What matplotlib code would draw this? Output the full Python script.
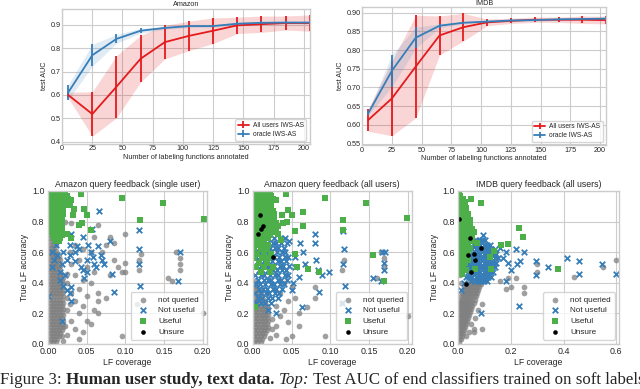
import numpy as np
import matplotlib
matplotlib.use("Agg")
import matplotlib.pyplot as plt
from matplotlib.ticker import MultipleLocator

plt.style.use("seaborn-v0_8-whitegrid")

# ---- top row: test AUC vs number of LFs annotated ----
n_lfs = [5, 25, 45, 65, 85, 105, 125, 145, 165, 185, 205]

amz_users = [0.600, 0.518, 0.635, 0.755, 0.826, 0.853, 0.875, 0.898, 0.903, 0.908, 0.908]
amz_users_err = [0.012, 0.095, 0.133, 0.100, 0.072, 0.063, 0.055, 0.035, 0.035, 0.030, 0.035]
amz_oracle = [0.610, 0.770, 0.840, 0.875, 0.887, 0.895, 0.895, 0.905, 0.909, 0.910, 0.910]
amz_oracle_err = [0.033, 0.047, 0.019, 0.010, 0.006, 0.006, 0.006, 0.006, 0.006, 0.006, 0.006]

imdb_users = [0.613, 0.671, 0.756, 0.839, 0.861, 0.874, 0.878, 0.881, 0.881, 0.881, 0.880]
imdb_users_err = [0.030, 0.100, 0.137, 0.052, 0.037, 0.009, 0.007, 0.007, 0.007, 0.010, 0.010]
imdb_oracle = [0.631, 0.745, 0.833, 0.865, 0.873, 0.876, 0.879, 0.880, 0.882, 0.883, 0.884]
imdb_oracle_err = [0.005, 0.043, 0.028, 0.005, 0.003, 0.003, 0.003, 0.003, 0.003, 0.003, 0.003]

# ---- bottom row: LF coverage vs true LF accuracy ----
# dense clusters are stored as rows: (accuracy, [coverages...])
# sparse points are stored as (coverage, accuracy)
amz1_gray_rows = [
    (0.01, [0.002, 0.006, 0.010]), (0.03, [0.004, 0.008, 0.012]),
    (0.05, [0.002, 0.006, 0.010, 0.014]), (0.07, [0.004, 0.008, 0.012, 0.016]),
    (0.09, [0.002, 0.006, 0.010, 0.014, 0.018]), (0.11, [0.004, 0.008, 0.012, 0.016, 0.020]),
    (0.13, [0.002, 0.006, 0.010, 0.014, 0.018]), (0.15, [0.004, 0.008, 0.012, 0.016, 0.020]),
    (0.17, [0.002, 0.006, 0.010, 0.014, 0.018]), (0.19, [0.004, 0.008, 0.012, 0.016, 0.020]),
    (0.21, [0.002, 0.006, 0.010, 0.014, 0.018]), (0.23, [0.004, 0.008, 0.012, 0.016, 0.020]),
    (0.25, [0.002, 0.006, 0.010, 0.014, 0.018]), (0.27, [0.004, 0.008, 0.012, 0.016, 0.020]),
    (0.29, [0.002, 0.006, 0.010, 0.014, 0.018]), (0.31, [0.004, 0.008, 0.012, 0.016, 0.020]),
    (0.33, [0.002, 0.006, 0.010, 0.014, 0.018]), (0.35, [0.004, 0.008, 0.012, 0.016, 0.020]),
    (0.37, [0.002, 0.006, 0.010, 0.014, 0.018]), (0.39, [0.004, 0.008, 0.012, 0.016, 0.020]),
    (0.41, [0.002, 0.006, 0.010, 0.014, 0.018]), (0.43, [0.004, 0.008, 0.012, 0.016, 0.020]),
    (0.45, [0.002, 0.006, 0.010, 0.014, 0.018]), (0.47, [0.004, 0.008, 0.012, 0.016]),
    (0.49, [0.002, 0.006, 0.010, 0.014]), (0.51, [0.004, 0.008, 0.012, 0.016]),
    (0.53, [0.002, 0.006, 0.010, 0.014]), (0.55, [0.004, 0.008, 0.012, 0.016]),
    (0.57, [0.002, 0.006, 0.010, 0.014]), (0.59, [0.004, 0.008, 0.012]),
    (0.61, [0.002, 0.006, 0.010]), (0.63, [0.004, 0.008]), (0.65, [0.002, 0.006, 0.010]),
    (0.67, [0.004, 0.008]), (0.69, [0.002, 0.006]), (0.71, [0.004, 0.008]), (0.73, [0.002, 0.006]),
]
amz1_gray = [
    (0.035, 0.65), (0.045, 0.62), (0.055, 0.60), (0.040, 0.55), (0.030, 0.52), (0.050, 0.50),
    (0.060, 0.47), (0.035, 0.45), (0.045, 0.42), (0.025, 0.40), (0.055, 0.40), (0.040, 0.36),
    (0.030, 0.33), (0.050, 0.31), (0.065, 0.33), (0.035, 0.28), (0.045, 0.25), (0.025, 0.22),
    (0.040, 0.20), (0.060, 0.22), (0.030, 0.15), (0.050, 0.15), (0.035, 0.10), (0.025, 0.06),
    (0.045, 0.08), (0.040, 0.03), (0.065, 0.28), (0.075, 0.30), (0.080, 0.45), (0.090, 0.50),
    (0.095, 0.47), (0.085, 0.55), (0.100, 0.53), (0.100, 0.47), (0.118, 0.48), (0.117, 0.55),
    (0.115, 0.26), (0.095, 0.05), (0.070, 0.60), (0.075, 0.65), (0.080, 0.70), (0.085, 0.66),
    (0.060, 0.70), (0.165, 0.60), (0.170, 0.56), (0.170, 0.52), (0.170, 0.48), (0.155, 0.43),
    (0.160, 0.41), (0.200, 0.20), (0.120, 0.59), (0.100, 0.72), (0.065, 0.20), (0.055, 0.13),
    (0.024, 0.30), (0.024, 0.46), (0.028, 0.60), (0.022, 0.80), (0.030, 0.79), (0.065, 0.78),
    (0.022, 0.12), (0.028, 0.26), (0.020, 0.02), (0.018, 0.05),
]
amz1_blue = [
    (0.000, 0.31), (0.005, 0.60), (0.008, 0.55), (0.012, 0.58), (0.018, 0.52), (0.015, 0.47),
    (0.020, 0.60), (0.022, 0.45), (0.025, 0.55), (0.028, 0.58), (0.020, 0.38), (0.025, 0.35),
    (0.028, 0.33), (0.030, 0.37), (0.030, 0.28), (0.035, 0.60), (0.038, 0.64), (0.040, 0.62),
    (0.042, 0.50), (0.045, 0.48), (0.047, 0.43), (0.050, 0.47), (0.050, 0.55), (0.052, 0.65),
    (0.055, 0.60), (0.058, 0.57), (0.060, 0.52), (0.062, 0.50), (0.065, 0.64), (0.068, 0.58),
    (0.070, 0.55), (0.072, 0.52), (0.080, 0.67), (0.083, 0.46), (0.085, 0.34), (0.018, 0.15),
    (0.035, 0.54), (0.028, 0.65), (0.010, 0.65), (0.012, 0.70), (0.030, 0.72), (0.045, 0.70),
    (0.057, 0.75), (0.118, 0.62), (0.117, 0.52), (0.119, 0.38), (0.117, 0.745), (0.170, 0.60),
    (0.168, 0.41), (0.066, 0.87), (0.015, 0.42), (0.005, 0.50),
]
amz1_green_rows = [
    (0.99, [0.002, 0.006, 0.010, 0.014, 0.018, 0.022]),
    (0.97, [0.004, 0.008, 0.012, 0.016, 0.020, 0.024]),
    (0.95, [0.002, 0.006, 0.010, 0.014, 0.018, 0.022, 0.026]),
    (0.93, [0.004, 0.008, 0.012, 0.016, 0.020, 0.024]),
    (0.91, [0.002, 0.006, 0.010, 0.014, 0.018, 0.022]),
    (0.89, [0.004, 0.008, 0.012, 0.016, 0.020]), (0.87, [0.002, 0.006, 0.010, 0.014, 0.018]),
    (0.85, [0.004, 0.008, 0.012, 0.016, 0.020]), (0.83, [0.002, 0.006, 0.010, 0.014, 0.018]),
    (0.81, [0.004, 0.008, 0.012, 0.016]), (0.79, [0.002, 0.006, 0.010, 0.014, 0.018]),
    (0.77, [0.004, 0.008, 0.012, 0.016]), (0.75, [0.002, 0.006, 0.010, 0.014, 0.018]),
    (0.73, [0.004, 0.008, 0.012, 0.016]), (0.71, [0.006, 0.010, 0.014, 0.018]),
    (0.69, [0.008, 0.012, 0.016]), (0.67, [0.010, 0.014]),
]
amz1_green = [
    (0.043, 0.98), (0.095, 0.956), (0.148, 0.92), (0.201, 0.82), (0.119, 0.81), (0.051, 0.84),
    (0.046, 0.88), (0.033, 0.88), (0.032, 0.84), (0.044, 0.79), (0.040, 0.78), (0.055, 0.745),
    (0.030, 0.94), (0.029, 0.91), (0.030, 0.69), (0.024, 0.72),
]
amz1_black = []

amz2_gray_rows = [
    (0.01, [0.002, 0.006, 0.010]), (0.03, [0.004, 0.008, 0.012]),
    (0.05, [0.002, 0.006, 0.010, 0.014]), (0.07, [0.004, 0.008, 0.012, 0.016]),
    (0.09, [0.002, 0.006, 0.010, 0.014, 0.018]), (0.11, [0.004, 0.008, 0.012, 0.016, 0.020]),
    (0.13, [0.002, 0.006, 0.010, 0.014, 0.018]), (0.15, [0.004, 0.008, 0.012, 0.016, 0.020]),
    (0.17, [0.002, 0.006, 0.010, 0.014, 0.018]), (0.19, [0.004, 0.008, 0.012, 0.016, 0.020]),
    (0.21, [0.002, 0.006, 0.010, 0.014, 0.018]), (0.23, [0.004, 0.008, 0.012, 0.016, 0.020]),
    (0.25, [0.002, 0.006, 0.010, 0.014, 0.018]), (0.27, [0.004, 0.008, 0.012, 0.016]),
    (0.29, [0.002, 0.006, 0.010, 0.014]), (0.31, [0.004, 0.008, 0.012]),
    (0.33, [0.002, 0.006, 0.010]), (0.35, [0.004, 0.008]), (0.37, [0.002, 0.006]),
    (0.39, [0.004]), (0.41, [0.002]),
]
amz2_gray = [
    (0.025, 0.10), (0.030, 0.12), (0.043, 0.03), (0.050, 0.05), (0.035, 0.18), (0.040, 0.22),
    (0.030, 0.25), (0.045, 0.28), (0.055, 0.30), (0.060, 0.20), (0.035, 0.33), (0.050, 0.37),
    (0.040, 0.40), (0.080, 0.30), (0.080, 0.37), (0.093, 0.05), (0.115, 0.48), (0.118, 0.55),
    (0.165, 0.60), (0.170, 0.56), (0.170, 0.50), (0.160, 0.43), (0.200, 0.18), (0.115, 0.27),
    (0.025, 0.16), (0.060, 0.12), (0.070, 0.24), (0.045, 0.14), (0.030, 0.06), (0.022, 0.04),
]
amz2_blue_rows = [
    (0.27, [0.004, 0.011, 0.016, 0.023]), (0.30, [0.007, 0.012, 0.020, 0.025, 0.033]),
    (0.33, [0.003, 0.010, 0.017, 0.021, 0.029, 0.034]),
    (0.36, [0.008, 0.013, 0.018, 0.026, 0.030, 0.038]),
    (0.39, [0.004, 0.009, 0.016, 0.023, 0.027, 0.035, 0.040]),
    (0.42, [0.007, 0.014, 0.019, 0.024, 0.032, 0.036, 0.044]),
    (0.45, [0.003, 0.010, 0.015, 0.022, 0.029, 0.033, 0.041, 0.046]),
    (0.48, [0.008, 0.012, 0.020, 0.026, 0.031, 0.038, 0.043]),
    (0.51, [0.005, 0.011, 0.017, 0.021, 0.028, 0.035, 0.039, 0.047]),
    (0.54, [0.007, 0.014, 0.018, 0.025, 0.032, 0.036, 0.043]),
    (0.57, [0.004, 0.009, 0.016, 0.023, 0.027, 0.034, 0.041, 0.045]),
    (0.60, [0.008, 0.013, 0.020, 0.024, 0.031, 0.038, 0.042]),
    (0.63, [0.011, 0.015, 0.022, 0.029, 0.033, 0.040]),
    (0.66, [0.018, 0.026, 0.030, 0.037, 0.044]), (0.69, [0.027, 0.035, 0.041]),
]
amz2_blue = [
    (0.047, 0.67), (0.061, 0.66), (0.065, 0.60), (0.068, 0.52), (0.080, 0.72), (0.080, 0.66),
    (0.082, 0.55), (0.084, 0.48), (0.090, 0.45), (0.085, 0.34), (0.098, 0.47), (0.116, 0.52),
    (0.118, 0.62), (0.119, 0.38), (0.115, 0.27), (0.167, 0.60), (0.171, 0.60), (0.170, 0.53),
    (0.170, 0.48), (0.155, 0.43), (0.166, 0.41), (0.064, 0.24), (0.116, 0.74), (0.055, 0.50),
    (0.060, 0.44), (0.050, 0.35), (0.030, 0.20), (0.020, 0.22), (0.055, 0.57), (0.052, 0.40),
]
amz2_green_rows = [
    (0.99, [0.002, 0.006, 0.010, 0.014, 0.018, 0.022]),
    (0.97, [0.004, 0.008, 0.012, 0.016, 0.020, 0.024]),
    (0.95, [0.002, 0.006, 0.010, 0.014, 0.018, 0.022, 0.026]),
    (0.93, [0.004, 0.008, 0.012, 0.016, 0.020, 0.024]),
    (0.91, [0.002, 0.006, 0.010, 0.014, 0.018, 0.022]),
    (0.89, [0.004, 0.008, 0.012, 0.016, 0.020, 0.024]),
    (0.87, [0.002, 0.006, 0.010, 0.014, 0.018, 0.022, 0.026]),
    (0.85, [0.004, 0.008, 0.012, 0.016, 0.020, 0.024, 0.028]),
    (0.83, [0.002, 0.006, 0.010, 0.014, 0.018, 0.022, 0.026]),
    (0.81, [0.004, 0.008, 0.012, 0.016, 0.020, 0.024, 0.028]),
    (0.79, [0.002, 0.006, 0.010, 0.014, 0.018, 0.022, 0.026, 0.030]),
    (0.77, [0.004, 0.008, 0.012, 0.016, 0.020, 0.024, 0.028, 0.032]),
    (0.75, [0.002, 0.006, 0.010, 0.014, 0.018, 0.022, 0.026, 0.030]),
    (0.73, [0.004, 0.008, 0.012, 0.016, 0.020, 0.024, 0.028]),
    (0.71, [0.002, 0.006, 0.010, 0.014, 0.018, 0.022]),
    (0.69, [0.004, 0.008, 0.012, 0.016, 0.020]), (0.67, [0.002, 0.006, 0.010, 0.014]),
    (0.65, [0.004, 0.008, 0.012, 0.020]), (0.62, [0.002, 0.010, 0.018]),
    (0.59, [0.006, 0.014, 0.024]), (0.56, [0.002, 0.012, 0.020]), (0.53, [0.008, 0.018]),
    (0.50, [0.004, 0.014, 0.026]), (0.47, [0.010, 0.022]),
]
amz2_green = [
    (0.043, 0.98), (0.093, 0.954), (0.146, 0.92), (0.199, 0.823), (0.117, 0.81), (0.116, 0.743),
    (0.065, 0.865), (0.046, 0.878), (0.051, 0.84), (0.044, 0.80), (0.055, 0.74), (0.065, 0.77),
    (0.038, 0.84), (0.039, 0.79), (0.033, 0.72), (0.055, 0.59), (0.057, 0.50), (0.071, 0.49),
    (0.086, 0.47), (0.155, 0.58), (0.170, 0.41), (0.003, 0.24), (0.036, 0.68), (0.030, 0.94),
]
amz2_black = [(0.009, 0.84), (0.011, 0.75), (0.007, 0.72), (0.026, 0.57), (0.013, 0.77)]

imdb_gray_rows = [
    (0.01, [0.003]), (0.03, [0.003, 0.010]), (0.05, [0.006, 0.014]),
    (0.07, [0.003, 0.010, 0.018]), (0.09, [0.006, 0.014, 0.022]),
    (0.11, [0.003, 0.010, 0.018, 0.026]), (0.13, [0.006, 0.014, 0.022, 0.030]),
    (0.15, [0.003, 0.010, 0.018, 0.026, 0.034]), (0.17, [0.006, 0.014, 0.022, 0.030, 0.038]),
    (0.19, [0.003, 0.010, 0.018, 0.026, 0.034, 0.042]),
    (0.21, [0.006, 0.014, 0.022, 0.030, 0.038, 0.046]),
    (0.23, [0.003, 0.010, 0.018, 0.026, 0.034, 0.042, 0.050]),
    (0.25, [0.006, 0.014, 0.022, 0.030, 0.038, 0.046, 0.054]),
    (0.27, [0.003, 0.010, 0.018, 0.026, 0.034, 0.042, 0.050, 0.058]),
    (0.29, [0.006, 0.014, 0.022, 0.030, 0.038, 0.046, 0.054, 0.062]),
    (0.31, [0.010, 0.018, 0.026, 0.034, 0.042, 0.050, 0.058, 0.066]),
    (0.33, [0.014, 0.022, 0.030, 0.038, 0.046, 0.054, 0.062, 0.070]),
    (0.35, [0.018, 0.026, 0.034, 0.042, 0.050, 0.058, 0.066, 0.074]),
    (0.37, [0.022, 0.030, 0.038, 0.046, 0.054, 0.062, 0.070, 0.078]),
    (0.39, [0.030, 0.038, 0.046, 0.054, 0.062, 0.070, 0.078, 0.086]),
    (0.41, [0.046, 0.054, 0.062, 0.070, 0.078, 0.086, 0.094]),
    (0.43, [0.070, 0.078, 0.086, 0.094, 0.102]), (0.45, [0.094, 0.102, 0.110]),
]
imdb_gray = [
    (0.040, 0.08), (0.060, 0.10), (0.050, 0.13), (0.065, 0.17), (0.075, 0.22), (0.090, 0.26),
    (0.180, 0.36), (0.200, 0.37), (0.220, 0.43), (0.250, 0.33), (0.300, 0.52), (0.300, 0.47),
    (0.440, 0.44), (0.550, 0.50), (0.600, 0.55), (0.190, 0.43), (0.250, 0.37), (0.160, 0.41),
    (0.090, 0.10), (0.060, 0.08), (0.030, 0.05), (0.005, 0.45), (0.010, 0.40),
]
imdb_blue_rows = [
    (0.41, [0.050, 0.062, 0.074, 0.086, 0.098, 0.110]),
    (0.44, [0.030, 0.042, 0.054, 0.066, 0.078, 0.090, 0.102, 0.114, 0.126]),
    (0.47, [0.036, 0.048, 0.060, 0.072, 0.084, 0.096, 0.108, 0.120, 0.132]),
    (0.50, [0.030, 0.042, 0.054, 0.066, 0.078, 0.090, 0.102, 0.114, 0.126, 0.138]),
    (0.53, [0.036, 0.048, 0.060, 0.072, 0.084, 0.096, 0.108, 0.120, 0.132, 0.144]),
    (0.56, [0.042, 0.054, 0.066, 0.078, 0.090, 0.102, 0.114, 0.126, 0.138, 0.150]),
    (0.59, [0.048, 0.060, 0.072, 0.084, 0.096, 0.108, 0.120, 0.132, 0.144]),
    (0.62, [0.054, 0.066, 0.078, 0.090, 0.102, 0.114, 0.126, 0.138]),
    (0.65, [0.060, 0.072, 0.084, 0.096, 0.108, 0.120]),
    (0.68, [0.066, 0.078, 0.090, 0.102]),
]
imdb_blue = [
    (0.180, 0.60), (0.220, 0.62), (0.250, 0.60), (0.190, 0.53), (0.225, 0.52), (0.200, 0.48),
    (0.180, 0.41), (0.230, 0.25), (0.297, 0.54), (0.297, 0.45), (0.340, 0.50), (0.414, 0.56),
    (0.460, 0.54), (0.460, 0.46), (0.547, 0.52), (0.600, 0.46), (0.235, 0.54), (0.085, 0.20),
    (0.095, 0.71), (0.160, 0.63), (0.170, 0.56), (0.010, 0.35), (0.020, 0.40),
]
imdb_green_rows = [
    (0.99, [0.002]), (0.97, [0.003, 0.008]), (0.95, [0.003, 0.010, 0.017]),
    (0.93, [0.003, 0.010, 0.017, 0.024]), (0.91, [0.003, 0.010, 0.017, 0.024]),
    (0.89, [0.003, 0.010, 0.017, 0.024, 0.031]), (0.87, [0.003, 0.010, 0.017, 0.024, 0.031]),
    (0.85, [0.003, 0.010, 0.017, 0.024, 0.031, 0.038]),
    (0.83, [0.003, 0.010, 0.017, 0.024, 0.031, 0.038]),
    (0.81, [0.003, 0.010, 0.017, 0.024, 0.031, 0.038, 0.045]),
    (0.79, [0.003, 0.010, 0.017, 0.024, 0.031, 0.038, 0.045]),
    (0.77, [0.003, 0.010, 0.017, 0.024, 0.031, 0.038, 0.045]),
    (0.75, [0.003, 0.010, 0.017, 0.024, 0.031, 0.038, 0.045, 0.052]),
    (0.73, [0.003, 0.010, 0.017, 0.024, 0.031, 0.038, 0.045]),
    (0.71, [0.003, 0.010, 0.017, 0.024, 0.031, 0.038, 0.045, 0.052]),
    (0.69, [0.003, 0.010, 0.017, 0.024, 0.031, 0.038, 0.045]),
    (0.67, [0.003, 0.010, 0.017, 0.024, 0.031, 0.038, 0.045, 0.052]),
    (0.65, [0.003, 0.010, 0.017, 0.024, 0.031, 0.038]),
    (0.63, [0.003, 0.010, 0.017, 0.024, 0.031, 0.045]),
    (0.61, [0.003, 0.010, 0.017, 0.024, 0.038]), (0.59, [0.003, 0.010, 0.017, 0.031]),
    (0.57, [0.003, 0.010, 0.024]), (0.55, [0.003, 0.017, 0.038]),
    (0.53, [0.010, 0.024]), (0.51, [0.003, 0.017]), (0.48, [0.010, 0.030]),
]
imdb_green = [
    (0.050, 0.95), (0.086, 0.92), (0.230, 0.76), (0.246, 0.70), (0.164, 0.65), (0.190, 0.655),
    (0.135, 0.61), (0.120, 0.57), (0.124, 0.49), (0.062, 0.49), (0.016, 0.46), (0.379, 0.49),
    (0.060, 0.73), (0.070, 0.66),
]
imdb_black = [(0.044, 0.69), (0.085, 0.63), (0.036, 0.58), (0.060, 0.59), (0.063, 0.55),
              (0.047, 0.47), (0.029, 0.39), (0.003, 0.82)]

red = "#e41a1c"
blue = "#377eb8"
green = "#4daf4a"


def expand(rows, pts):
    xs = [x for y, row in rows for x in row] + [p[0] for p in pts]
    ys = [y for y, row in rows for x in row] + [p[1] for p in pts]
    return xs, ys


fig = plt.figure(figsize=(6.4, 3.89), dpi=100)

top_axes = [
    fig.add_axes([0.097, 0.630, 0.387, 0.348]),
    fig.add_axes([0.566, 0.626, 0.381, 0.356]),
]
top_data = [
    ("Amazon", amz_users, amz_users_err, amz_oracle, amz_oracle_err),
    ("IMDB", imdb_users, imdb_users_err, imdb_oracle, imdb_oracle_err),
]
for ax, (title, u, ue, o, oe) in zip(top_axes, top_data):
    x = np.array(n_lfs)
    u, ue, o, oe = map(np.array, (u, ue, o, oe))
    ax.fill_between(x, u - ue, u + ue, color=red, alpha=0.18, lw=0)
    ax.fill_between(x, o - oe, o + oe, color=blue, alpha=0.15, lw=0)
    ax.errorbar(x, u, yerr=ue, color=red, lw=1.3, elinewidth=1.3, label="All users IWS-AS")
    ax.errorbar(x, o, yerr=oe, color=blue, lw=1.3, elinewidth=1.3, label="oracle IWS-AS")
    ax.set_xlim(0, 205)
    ax.xaxis.set_major_locator(MultipleLocator(25))
    ax.set_title(title, fontsize=5.2, pad=1.5)
    ax.set_xlabel("Number of labeling functions annotated", fontsize=5.2, labelpad=1)
    ax.set_ylabel("test AUC", fontsize=5.2, labelpad=2)
    ax.tick_params(labelsize=5.2, pad=1)
    ax.legend(loc="lower right", fontsize=4.8, frameon=True, borderpad=0.4,
              handlelength=1.6, handletextpad=0.6, labelspacing=0.3)
top_axes[0].set_ylim(0.39, 0.97)
top_axes[1].set_ylim(0.545, 0.915)
top_axes[1].yaxis.set_major_locator(MultipleLocator(0.05))

bot_axes = [
    fig.add_axes([0.075, 0.116, 0.248, 0.393]),
    fig.add_axes([0.395, 0.116, 0.248, 0.393]),
    fig.add_axes([0.716, 0.116, 0.251, 0.393]),
]
bot_data = [
    ("Amazon query feedback (single user)",
     expand(amz1_gray_rows, amz1_gray), expand([], amz1_blue),
     expand(amz1_green_rows, amz1_green), expand([], amz1_black), 0.205, 0.05),
    ("Amazon query feedback (all users)",
     expand(amz2_gray_rows, amz2_gray), expand(amz2_blue_rows, amz2_blue),
     expand(amz2_green_rows, amz2_green), expand([], amz2_black), 0.205, 0.05),
    ("IMDB query feedback (all users)",
     expand(imdb_gray_rows, imdb_gray), expand(imdb_blue_rows, imdb_blue),
     expand(imdb_green_rows, imdb_green), expand([], imdb_black), 0.61, 0.2),
]
for ax, (title, g, b, gr, bk, xmax, step) in zip(bot_axes, bot_data):
    ax.scatter(g[0], g[1], s=17, color="grey", alpha=0.75, lw=0, label="not queried")
    ax.scatter(b[0], b[1], s=16, marker="x", color=blue, linewidths=1.3, label="Not useful")
    ax.scatter(gr[0], gr[1], s=15, marker="s", color=green, lw=0, label="Useful")
    ax.scatter(bk[0], bk[1], s=11, color="black", lw=0, label="Unsure")
    ax.set_xlim(0, xmax)
    ax.set_ylim(0, 1.0)
    ax.xaxis.set_major_locator(MultipleLocator(step))
    ax.yaxis.set_major_locator(MultipleLocator(0.2))
    if step == 0.05:
        ax.xaxis.set_major_formatter(plt.FormatStrFormatter("%.2f"))
    else:
        ax.xaxis.set_major_formatter(plt.FormatStrFormatter("%.1f"))
    ax.yaxis.set_major_formatter(plt.FormatStrFormatter("%.1f"))
    ax.set_title(title, fontsize=6.3, pad=3)
    ax.set_xlabel("LF coverage", fontsize=6.2, labelpad=1.5)
    ax.set_ylabel("True LF accuracy", fontsize=6.2, labelpad=2)
    ax.tick_params(axis="y", labelsize=6.4, pad=2.5)
    ax.tick_params(axis="x", labelsize=6.4, pad=2.5)
    ax.legend(loc="lower right", fontsize=5.9, frameon=True, borderpad=0.5,
              handletextpad=0.8, labelspacing=0.35)

# caption, drawn piece by piece
pieces = [
    ("Figure 3:", "normal", "normal"),
    ("Human user study, text data.", "bold", "normal"),
    ("Top:", "normal", "italic"),
    ("Test AUC of end classifiers trained on soft labels", "normal", "normal"),
]
fig.canvas.draw()
renderer = fig.canvas.get_renderer()
xpos = 0.0
fs = 12.2
gap = fs * 0.25 * 100 / 72 / 640
for txt, weight, style in pieces:
    t = fig.text(xpos, 0.012, txt, fontsize=fs, family="Liberation Serif",
                 weight=weight, style=style, va="baseline", ha="left")
    w = t.get_window_extent(renderer).width / 640
    xpos += w + gap

fig.savefig("out.png", dpi=100)
